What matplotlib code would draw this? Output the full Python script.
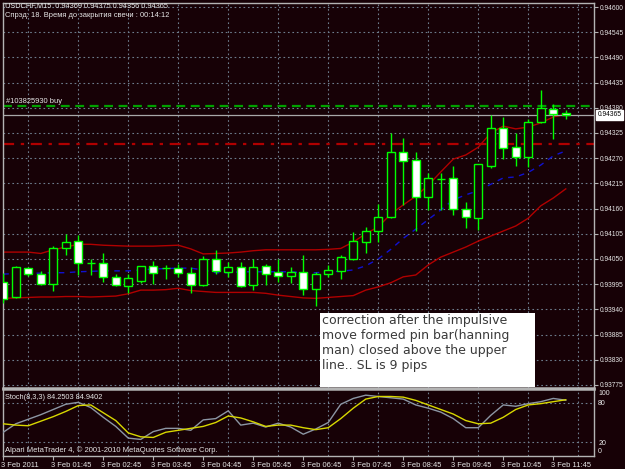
import matplotlib
matplotlib.use("Agg")
import matplotlib.pyplot as plt
from matplotlib.patches import Rectangle
from matplotlib.transforms import ScaledTranslation

W, H = 625, 469
BG = "#170106"
GRID = "#6d7d8d"
FRAME = "#b4b4b4"
TXT = "#e6e6e6"
FONT = "Liberation Sans"

# ---- data (USDCHF M15, 46 bars) ----
opens = [0.94000, 0.93966, 0.94030, 0.94017, 0.93995, 0.94075, 0.94089, 0.94042, 0.94042, 0.94011,
         0.93992, 0.94002, 0.94035, 0.94030, 0.94030, 0.94020, 0.93993, 0.94051, 0.94022, 0.94033,
         0.93993, 0.94035, 0.94022, 0.94013, 0.94022, 0.93984, 0.94017, 0.94024, 0.94049, 0.94088,
         0.94110, 0.94142, 0.94284, 0.94266, 0.94186, 0.94224, 0.94226, 0.94158, 0.94139, 0.94254,
         0.94337, 0.94294, 0.94273, 0.94348, 0.94377, 0.94369]
highs = [0.94019, 0.94035, 0.94033, 0.94024, 0.94078, 0.94105, 0.94102, 0.94051, 0.94062, 0.94017,
         0.94017, 0.94035, 0.94046, 0.94037, 0.94039, 0.94033, 0.94057, 0.94070, 0.94044, 0.94044,
         0.94049, 0.94039, 0.94049, 0.94033, 0.94059, 0.94022, 0.94037, 0.94059, 0.94108, 0.94120,
         0.94170, 0.94324, 0.94315, 0.94283, 0.94237, 0.94238, 0.94253, 0.94175, 0.94258, 0.94364,
         0.94359, 0.94326, 0.94356, 0.94419, 0.94388, 0.94375]
lows = [0.93954, 0.93965, 0.94013, 0.93993, 0.93981, 0.94059, 0.94015, 0.94015, 0.94000, 0.93991,
        0.93975, 0.93998, 0.93995, 0.94006, 0.94011, 0.93975, 0.93991, 0.94017, 0.94011, 0.93989,
        0.93982, 0.93993, 0.94000, 0.93997, 0.93971, 0.93947, 0.94010, 0.94006, 0.94048, 0.94064,
        0.94087, 0.94139, 0.94168, 0.94110, 0.94157, 0.94157, 0.94146, 0.94117, 0.94113, 0.94248,
        0.94268, 0.94253, 0.94250, 0.94346, 0.94311, 0.94356]
closes = [0.93963, 0.94033, 0.94017, 0.93995, 0.94075, 0.94088, 0.94041, 0.94042, 0.94010, 0.93994,
          0.94008, 0.94035, 0.94019, 0.94030, 0.94019, 0.93993, 0.94051, 0.94024, 0.94033, 0.93992,
          0.94033, 0.94017, 0.94013, 0.94022, 0.93984, 0.94017, 0.94026, 0.94055, 0.94090, 0.94110,
          0.94142, 0.94284, 0.94264, 0.94185, 0.94226, 0.94224, 0.94158, 0.94141, 0.94257, 0.94337,
          0.94292, 0.94273, 0.94350, 0.94379, 0.94366, 0.94365]

bb_upper = [0.94065, 0.94065, 0.94065, 0.94062, 0.94070, 0.94076, 0.94082, 0.94082, 0.94080, 0.94079,
            0.94078, 0.94078, 0.94078, 0.94079, 0.94080, 0.94072, 0.94061, 0.94062, 0.94063, 0.94065,
            0.94068, 0.94070, 0.94070, 0.94070, 0.94070, 0.94070, 0.94071, 0.94073, 0.94087, 0.94105,
            0.94120, 0.94148, 0.94168, 0.94187, 0.94211, 0.94240, 0.94268, 0.94277, 0.94294, 0.94325,
            0.94340, 0.94334, 0.94338, 0.94347, 0.94360, 0.94366]
bb_mid = [0.94017, 0.94018, 0.94019, 0.94019, 0.94020, 0.94020, 0.94022, 0.94023, 0.94024, 0.94024,
          0.94024, 0.94026, 0.94028, 0.94029, 0.94030, 0.94030, 0.94026, 0.94020, 0.94020, 0.94022,
          0.94022, 0.94022, 0.94022, 0.94022, 0.94020, 0.94020, 0.94022, 0.94023, 0.94026, 0.94035,
          0.94050, 0.94071, 0.94095, 0.94115, 0.94136, 0.94157, 0.94179, 0.94190, 0.94199, 0.94213,
          0.94227, 0.94229, 0.94239, 0.94255, 0.94275, 0.94286]
bb_lower = [0.93964, 0.93965, 0.93966, 0.93967, 0.93967, 0.93968, 0.93968, 0.93967, 0.93968, 0.93969,
            0.93974, 0.93982, 0.93982, 0.93983, 0.93986, 0.93981, 0.93979, 0.93977, 0.93977, 0.93977,
            0.93977, 0.93975, 0.93971, 0.93968, 0.93965, 0.93964, 0.93966, 0.93968, 0.93970, 0.93982,
            0.93989, 0.93998, 0.94011, 0.94015, 0.94037, 0.94054, 0.94065, 0.94076, 0.94089, 0.94100,
            0.94111, 0.94122, 0.94139, 0.94166, 0.94183, 0.94203]

stoch_k = [35, 48, 55, 62, 70, 78, 81, 73, 58, 44, 26, 24, 36, 41, 41, 38, 54, 56, 68, 46,
           49, 43, 49, 43, 32, 40, 50, 78, 87, 92, 90, 88, 86, 77, 72, 66, 56, 42, 42, 61,
           77, 75, 79, 82, 87, 84.25]
stoch_d = [48, 46, 45, 52, 59, 67, 76, 77, 65, 53, 34, 28, 27, 35, 38, 41, 44, 50, 60, 57,
           51, 44, 46, 46, 42, 39, 42, 56, 72, 86, 90, 90, 89, 84, 77, 70, 63, 53, 48, 49,
           58, 70, 77, 79, 82, 84.94]

price_ticks = [0.93775, 0.93830, 0.93885, 0.93940, 0.93995, 0.94050, 0.94105, 0.94160,
               0.94215, 0.94270, 0.94325, 0.94380, 0.94435, 0.94490, 0.94545, 0.94600]
time_ticks = list(range(0, 46, 4))
time_labels = ["3 Feb 2011", "3 Feb 01:45", "3 Feb 02:45", "3 Feb 03:45", "3 Feb 04:45",
               "3 Feb 05:45", "3 Feb 06:45", "3 Feb 07:45", "3 Feb 08:45", "3 Feb 09:45",
               "3 Feb 10:45", "3 Feb 11:45"]
stoch_ticks = [0, 20, 80, 100]
stoch_levels = [20, 80]
BUY_PRICE = 0.94384
SL_PRICE = 0.94300

plt.rcParams["font.family"] = [FONT, "DejaVu Sans"]

fig = plt.figure(figsize=(W / 100, H / 100), dpi=100, facecolor=BG)
ax = fig.add_axes([3 / W, 81 / H, 591 / W, 385 / H], facecolor=BG)
ax2 = fig.add_axes([3 / W, 13 / H, 591 / W, 67 / H], facecolor=BG, sharex=ax)

n = len(opens)
xs = list(range(n))

# ---- main panel ----
ax.plot(xs, bb_upper, color="#b00000", lw=1.0, zorder=2)
ax.plot(xs, bb_lower, color="#b00000", lw=1.0, zorder=2)
ax.plot(xs, bb_mid, color="#1010d0", lw=1.0, ls=(0, (4, 4)), zorder=2)

ax.vlines(xs, lows, highs, color="#00ff00", lw=1.0, zorder=3)
for i in xs:
    o, c = opens[i], closes[i]
    if o == c:
        ax.hlines(o, i - 0.31, i + 0.31, color="#00ff00", lw=1.0, zorder=4)
        continue
    fc = "white" if c < o else BG
    ax.bar(i, abs(c - o), bottom=min(o, c), width=0.62, facecolor=fc,
           edgecolor="#00ff00", lw=1.0, zorder=4)

ax.axhline(BUY_PRICE, color="#00a000", lw=1.6, ls=(0, (4, 2.5)), zorder=2)
ax.axhline(SL_PRICE, color="#b00000", lw=1.6, ls=(0, (5, 3, 1.5, 3)), zorder=2)
ax.axhline(closes[-1], color="#a8a8a8", lw=0.9, zorder=2)
ax.text(0.25, BUY_PRICE + 0.00002, "#103825930 buy", color=TXT, fontsize=5.4,
        va="bottom", ha="left", zorder=5)

ax.set_xlim(-0.02, 47.26)
ax.set_ylim(0.937683, 0.946088)
ax.yaxis.tick_right()
ax.set_yticks(price_ticks)
ax.set_yticklabels([f"{p:.5f}" for p in price_ticks])
ax.set_xticks(range(0, 48, 2), minor=True)
ax.tick_params(axis="x", which="both", length=0, labelbottom=False)
ax.tick_params(axis="y", length=3, color=FRAME, labelcolor=TXT, labelsize=4.8, pad=1)
ax.grid(True, axis="y", color=GRID, lw=0.8, ls=(0, (1.5, 2.5)))
ax.grid(True, axis="x", which="minor", color=GRID, lw=0.8, ls=(0, (1.5, 2.5)))
ax.set_axisbelow(True)
for sp in ax.spines.values():
    sp.set_color(FRAME)
    sp.set_linewidth(1.0)
ax.spines["bottom"].set_linewidth(1.8)

ax.annotate(f"{closes[-1]:.5f}", xy=(1.0, closes[-1]), xycoords=("axes fraction", "data"),
            xytext=(2.5, 0), textcoords="offset points", va="center", ha="left",
            fontsize=4.8, color="black",
            bbox=dict(boxstyle="square,pad=0.2", fc="white", ec="white"), annotation_clip=False)

# ---- stochastic panel ----
ax2.plot(xs, stoch_k, color="#8c96a4", lw=1.0, zorder=3)
ax2.plot(xs, stoch_d, color="#d8d800", lw=1.0, zorder=3)
for lv in stoch_levels:
    ax2.axhline(lv, color=GRID, lw=0.8, ls=(0, (1.5, 2.5)), zorder=1)
ax2.set_ylim(-1.5, 101.5)
ax2.yaxis.tick_right()
ax2.set_yticks(stoch_ticks)
ax2.set_yticklabels([str(v) for v in stoch_ticks])
ax2.tick_params(axis="y", length=0, labelcolor=TXT, labelsize=5.0, pad=3)
for lab, v in zip(ax2.get_yticklabels(), stoch_ticks):
    if v == 100:
        lab.set_va("top")
    elif v == 0:
        lab.set_va("bottom")
ax2.set_xticks(time_ticks)
ax2.set_xticklabels(time_labels)
ax2.tick_params(axis="x", which="major", length=3, color=FRAME, labelcolor=TXT,
                labelsize=5.4, pad=1.5)
ax2.tick_params(axis="x", which="minor", length=0)
ax2.grid(True, axis="x", which="minor", color=GRID, lw=0.8, ls=(0, (1.5, 2.5)))
ax2.set_axisbelow(True)
shift = ScaledTranslation(-2 / 100, 0, fig.dpi_scale_trans)
for lab in ax2.get_xticklabels():
    lab.set_ha("left")
    lab.set_transform(lab.get_transform() + shift)
for sp in ax2.spines.values():
    sp.set_color(FRAME)
    sp.set_linewidth(1.0)
ax2.spines["top"].set_linewidth(1.8)

# ---- texts ----
def ftext(px, py, s, **kw):
    fig.text(px / W, 1 - py / H, s, va="center", ha="left", **kw)

ftext(5, 6, "USDCHF,M15  0.94369 0.94375 0.94356 0.94365", color=TXT, fontsize=5.3)
ftext(5, 15.5, "Спрэд: 18. Время до закрытия свечи : 00:14:12", color=TXT, fontsize=5.4)
ftext(5, 397, "Stoch(8,3,3) 84.2503 84.9402", color=TXT, fontsize=5.3)
ftext(5, 450, "Alpari MetaTrader 4, © 2001-2010 MetaQuotes Software Corp.", color=TXT, fontsize=5.5)

fig.add_artist(Rectangle((320 / W, 1 - 387 / H), 215 / W, 74 / H, transform=fig.transFigure,
                         facecolor="white", edgecolor="none", zorder=5))
fig.text(322 / W, 1 - 314 / H,
         "correction after the impulsive\nmove formed pin bar(hanning\n"
         "man) closed above the upper\nline.. SL is 9 pips",
         family="DejaVu Sans", fontsize=9, color="#3a3a3a", va="top", ha="left",
         linespacing=1.2, zorder=6)

fig.savefig("out.png", dpi=100, facecolor=BG)
